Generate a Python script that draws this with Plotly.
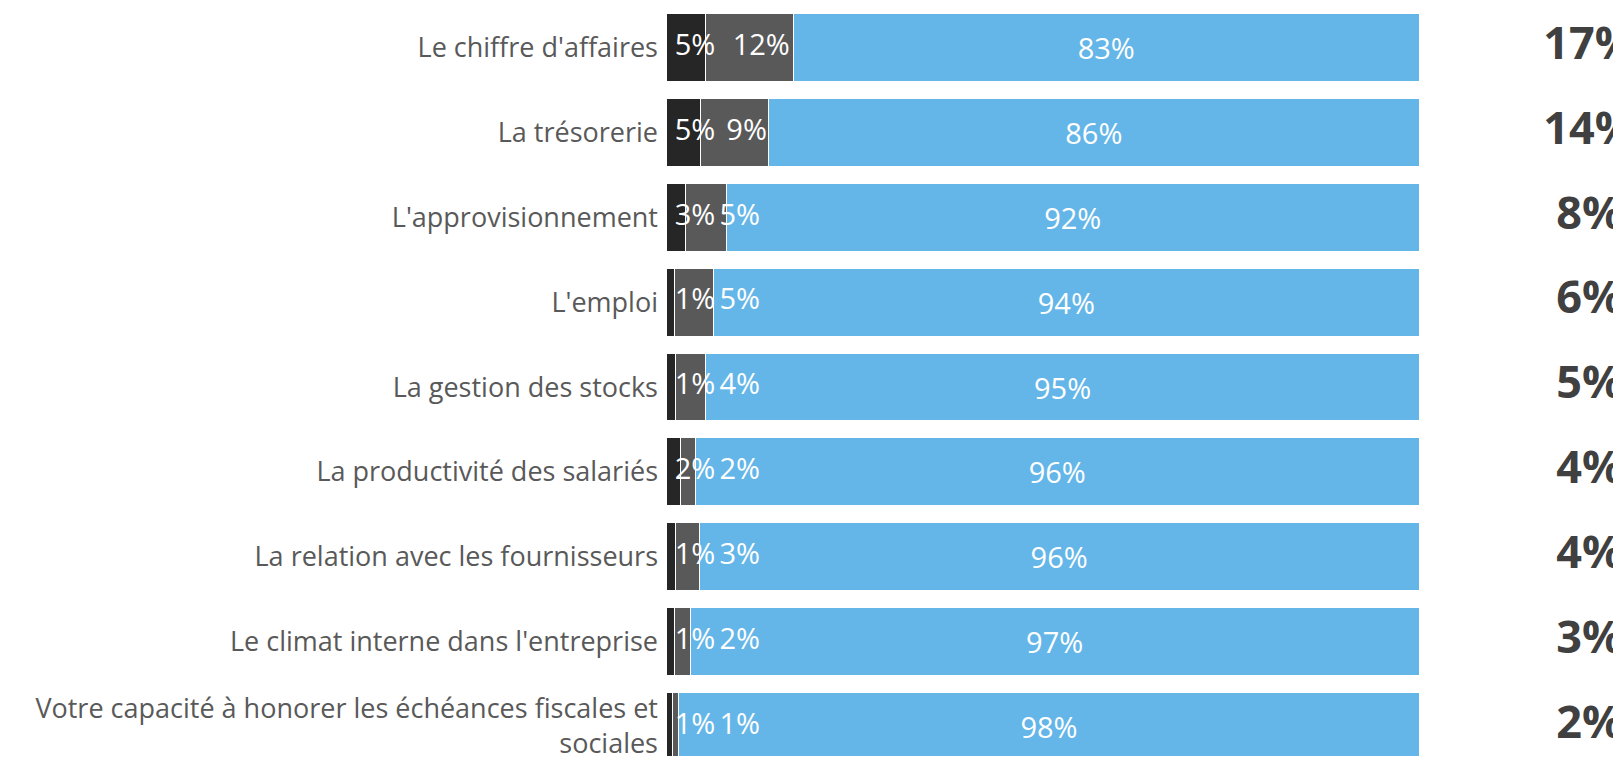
import plotly.graph_objects as go

categories = [
    "Le chiffre d'affaires",
    "La trésorerie",
    "L'approvisionnement",
    "L'emploi",
    "La gestion des stocks",
    "La productivité des salariés",
    "La relation avec les fournisseurs",
    "Le climat interne dans l'entreprise",
    "Votre capacité à honorer les échéances fiscales et<br>sociales",
]
# percentages (dark = strong impact, grey = moderate impact, blue = no impact)
dark_vals = [5.2, 4.6, 2.6, 1.1, 1.2, 1.9, 1.2, 1.1, 0.8]
grey_vals = [11.7, 9.0, 5.4, 5.2, 4.1, 2.0, 3.2, 2.1, 0.9]
blue_vals = [83.1, 86.4, 92.0, 93.7, 94.7, 96.1, 95.6, 96.8, 98.3]

DARK = "#262626"
GREY = "#595959"
BLUE = "#65B6E8"
LABEL_FONT = "Open Sans, Noto Sans, sans-serif"


def pct(v):
    return f"{int(round(v + 1e-9))}%"


totals = [d + g for d, g in zip(dark_vals, grey_vals)]

fig = go.Figure()
fig.add_trace(go.Bar(y=categories, x=dark_vals, orientation="h", marker=dict(color=DARK, line=dict(color="#FFFFFF", width=1)), hoverinfo="skip"))
fig.add_trace(go.Bar(y=categories, x=grey_vals, orientation="h", marker=dict(color=GREY, line=dict(color="#FFFFFF", width=1)), hoverinfo="skip"))
fig.add_trace(go.Bar(
    y=categories, x=blue_vals, orientation="h",
    marker=dict(color=BLUE, line=dict(color="#FFFFFF", width=1)),
    text=[pct(v) for v in blue_vals], textposition="inside", insidetextanchor="middle",
    textangle=0, insidetextfont=dict(color="white", size=29, family=LABEL_FONT),
    hoverinfo="skip",
))

# labels for the two small segments (Excel-like placement avoiding overlap)
lab1_x = [max(d / 2, 3.85) for d in dark_vals]
lab2_x = [max(d + g / 2 + 1.6, 9.8) for d, g in zip(dark_vals, grey_vals)]
fig.add_trace(go.Scatter(y=categories, x=lab1_x, mode="text", text=[pct(v) for v in dark_vals],
                         textposition="middle center", textfont=dict(color="white", size=29, family=LABEL_FONT),
                         hoverinfo="skip", cliponaxis=False))
fig.add_trace(go.Scatter(y=categories, x=lab2_x, mode="text", text=[pct(v) for v in grey_vals],
                         textposition="middle center", textfont=dict(color="white", size=29, family=LABEL_FONT),
                         hoverinfo="skip", cliponaxis=False))
# totals column on the right
fig.add_trace(go.Scatter(y=categories, x=[122.6] * len(categories), mode="text", text=[pct(v) for v in totals],
                         textposition="middle center",
                         textfont=dict(color="#404040", size=45, family=LABEL_FONT, weight="bold"),
                         hoverinfo="skip", cliponaxis=False))

fig.update_layout(
    barmode="stack",
    bargap=0.2,
    width=1613, height=753,
    margin=dict(l=658, r=0, t=0, b=0),
    paper_bgcolor="white", plot_bgcolor="white",
    showlegend=False,
    xaxis=dict(range=[0, 126.8], visible=False, fixedrange=True),
    yaxis=dict(
        type="category", categoryorder="array", categoryarray=categories,
        range=[8.349, -0.468], showgrid=False, zeroline=False, showline=False,
        ticks="", ticklabelstandoff=7,
        tickfont=dict(family=LABEL_FONT, size=27, color="#595959"),
        fixedrange=True,
    ),
)

fig.write_html("out.html")
